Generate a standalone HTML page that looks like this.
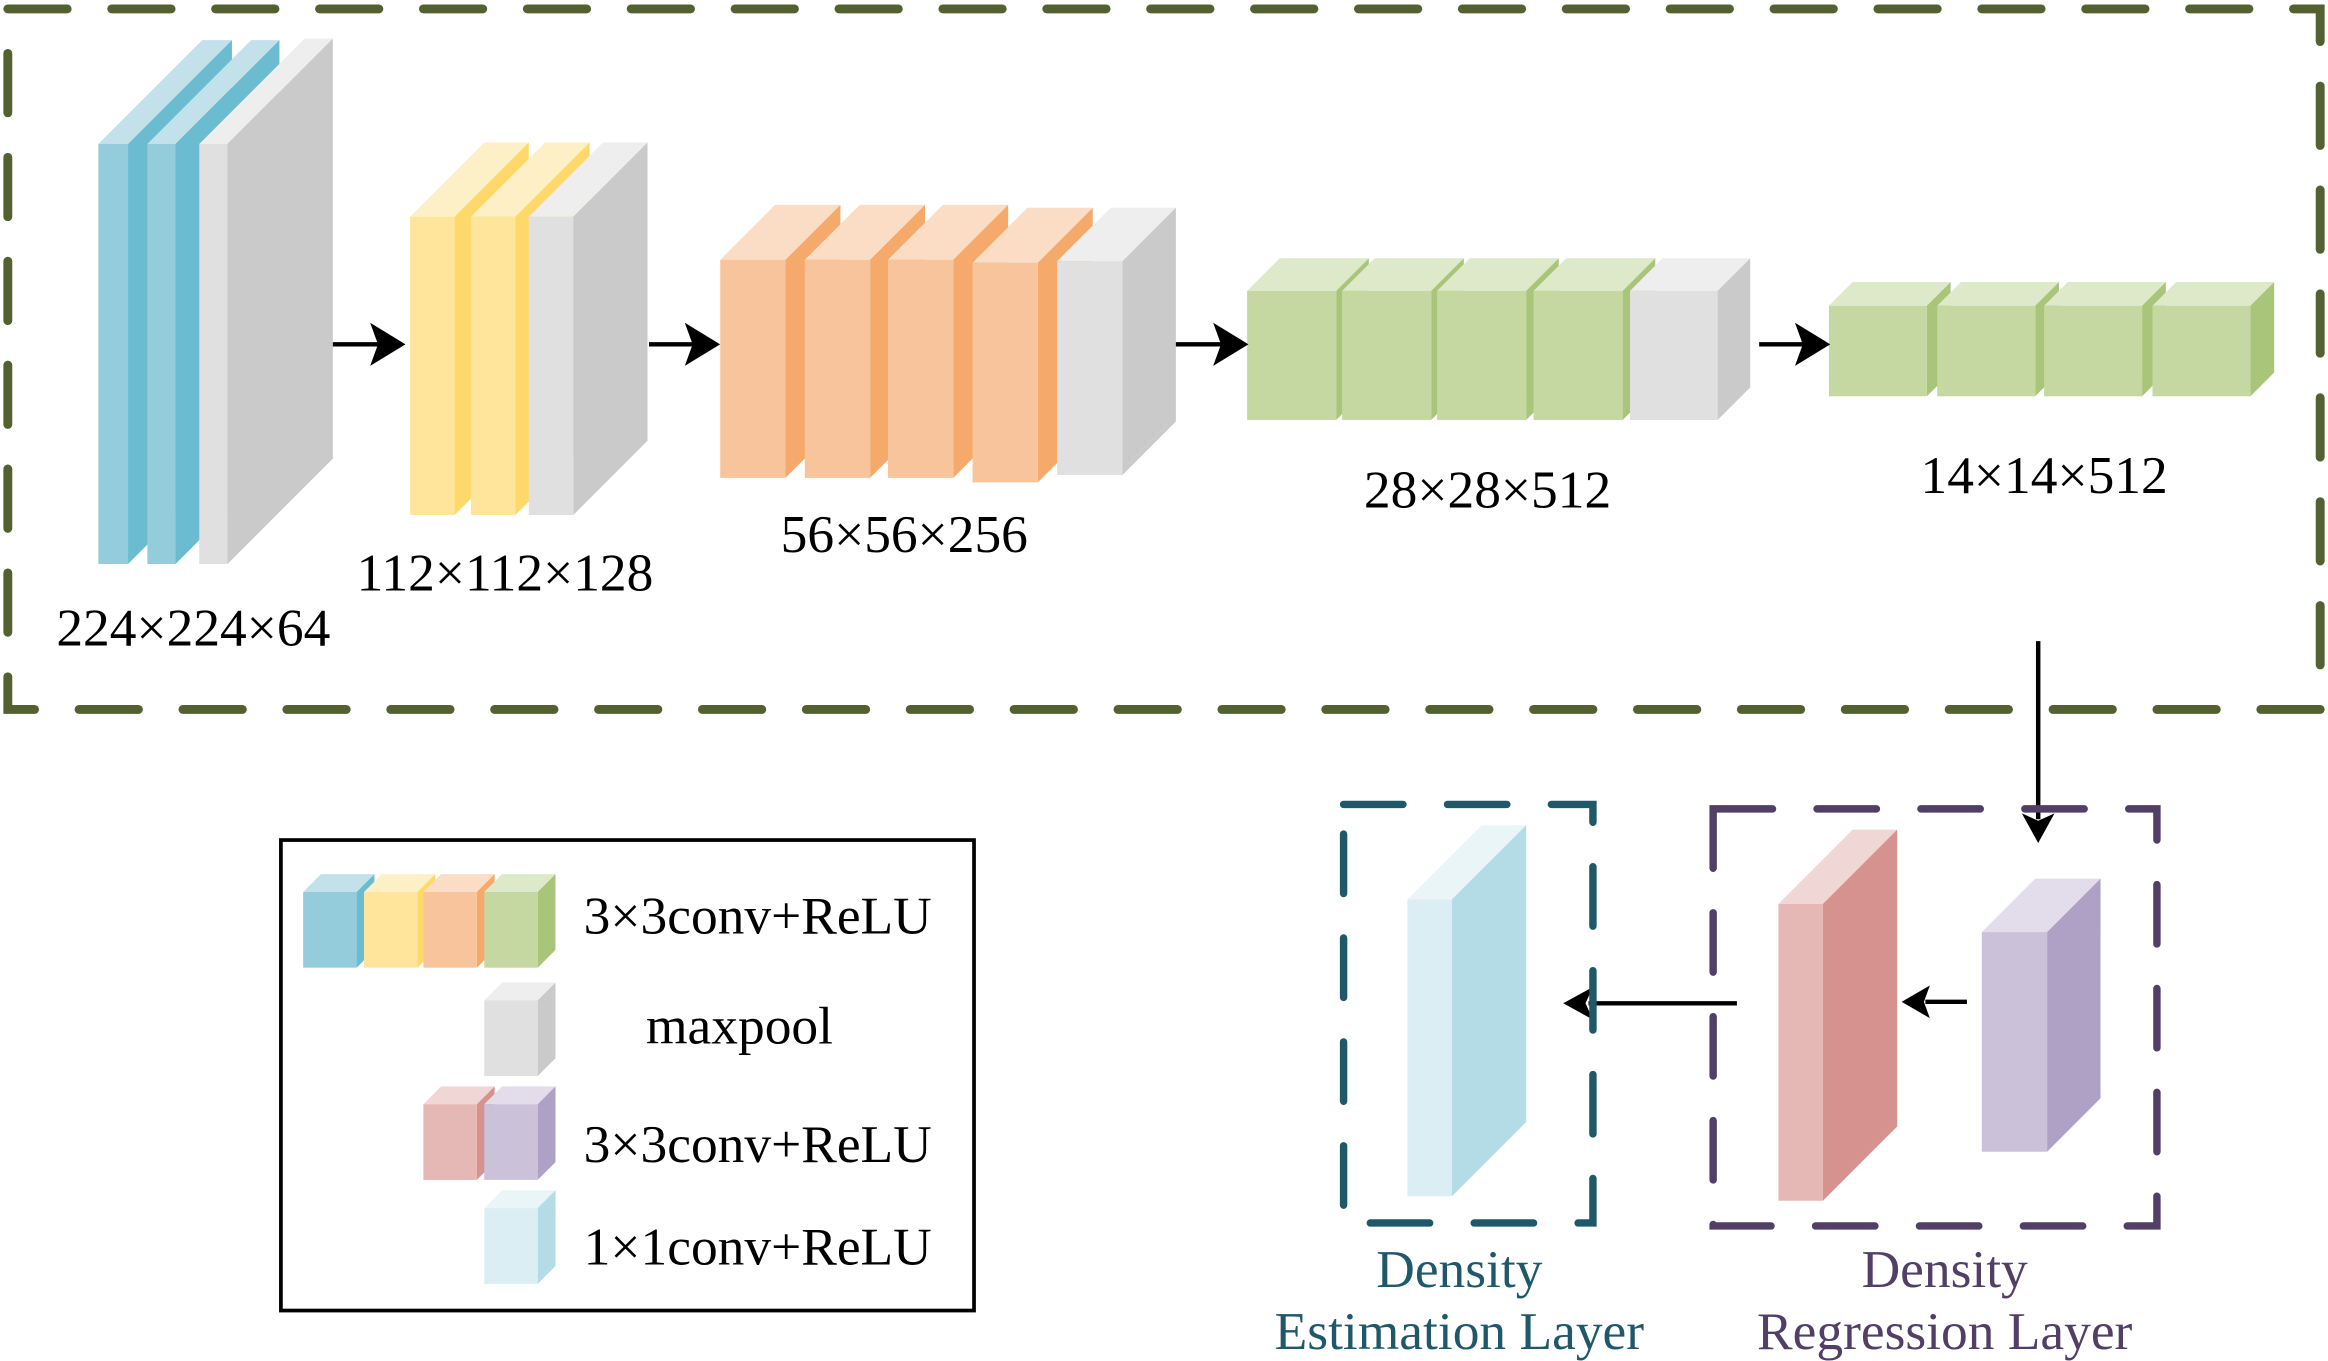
<!DOCTYPE html>
<html><head><meta charset="utf-8"><style>html,body{margin:0;padding:0;background:#fff}svg{display:block}</style></head>
<body>
<svg width="2328" height="1361" viewBox="0 0 1568 917" xmlns="http://www.w3.org/2000/svg" font-family="'Liberation Serif', serif">
<rect x="0" y="0" width="1568" height="917" fill="#fff"/>
<rect x="5" y="6" width="1558" height="472" fill="none" stroke="#536130" stroke-width="6" stroke-dasharray="40 30" stroke-linecap="round"/>
<polygon points="66,97 136,27 156,27 86,97" fill="#c2e1ea"/><polygon points="86,97 156,27 156,310 86,380" fill="#6bbcd0"/><rect x="66" y="97" width="20" height="283" fill="#95ccdb"/>
<polygon points="99,97 169,27 188,27 118,97" fill="#c2e1ea"/><polygon points="118,97 188,27 188,310 118,380" fill="#6bbcd0"/><rect x="99" y="97" width="19" height="283" fill="#95ccdb"/>
<polygon points="134,97 205,26 224,26 153,97" fill="#eeeeee"/><polygon points="153,97 224,26 224,309 153,380" fill="#cacaca"/><rect x="134" y="97" width="19" height="283" fill="#e0e0e0"/>
<polygon points="276,146 326,96 356,96 306,146" fill="#fdf0c7"/><polygon points="306,146 356,96 356,297 306,347" fill="#fed96a"/><rect x="276" y="146" width="30" height="201" fill="#fee59b"/>
<polygon points="317,146 367,96 397,96 347,146" fill="#fdf0c7"/><polygon points="347,146 397,96 397,297 347,347" fill="#fed96a"/><rect x="317" y="146" width="30" height="201" fill="#fee59b"/>
<polygon points="356,146 406,96 436,96 386,146" fill="#eeeeee"/><polygon points="386,146 436,96 436,297 386,347" fill="#cacaca"/><rect x="356" y="146" width="30" height="201" fill="#e0e0e0"/>
<polygon points="485,175 522,138 566,138 529,175" fill="#fbdcc4"/><polygon points="529,175 566,138 566,285 529,322" fill="#f5a96a"/><rect x="485" y="175" width="44" height="147" fill="#f8c49b"/>
<polygon points="542,175 579,138 623,138 586,175" fill="#fbdcc4"/><polygon points="586,175 623,138 623,285 586,322" fill="#f5a96a"/><rect x="542" y="175" width="44" height="147" fill="#f8c49b"/>
<polygon points="598,175 635,138 679,138 642,175" fill="#fbdcc4"/><polygon points="642,175 679,138 679,285 642,322" fill="#f5a96a"/><rect x="598" y="175" width="44" height="147" fill="#f8c49b"/>
<polygon points="655,177 692,140 736,140 699,177" fill="#fbdcc4"/><polygon points="699,177 736,140 736,288 699,325" fill="#f5a96a"/><rect x="655" y="177" width="44" height="148" fill="#f8c49b"/>
<polygon points="712,176 748,140 792,140 756,176" fill="#eeeeee"/><polygon points="756,176 792,140 792,284 756,320" fill="#cacaca"/><rect x="712" y="176" width="44" height="144" fill="#e0e0e0"/>
<polygon points="840,196 862,174 922,174 900,196" fill="#dde9c9"/><polygon points="900,196 922,174 922,261 900,283" fill="#a9c57a"/><rect x="840" y="196" width="60" height="87" fill="#c5d8a1"/>
<polygon points="904,196 926,174 986,174 964,196" fill="#dde9c9"/><polygon points="964,196 986,174 986,261 964,283" fill="#a9c57a"/><rect x="904" y="196" width="60" height="87" fill="#c5d8a1"/>
<polygon points="968,196 990,174 1050,174 1028,196" fill="#dde9c9"/><polygon points="1028,196 1050,174 1050,261 1028,283" fill="#a9c57a"/><rect x="968" y="196" width="60" height="87" fill="#c5d8a1"/>
<polygon points="1033,196 1055,174 1115,174 1093,196" fill="#dde9c9"/><polygon points="1093,196 1115,174 1115,261 1093,283" fill="#a9c57a"/><rect x="1033" y="196" width="60" height="87" fill="#c5d8a1"/>
<polygon points="1098,196 1120,174 1179,174 1157,196" fill="#eeeeee"/><polygon points="1157,196 1179,174 1179,261 1157,283" fill="#cacaca"/><rect x="1098" y="196" width="59" height="87" fill="#e0e0e0"/>
<polygon points="1232,206 1248,190 1314,190 1298,206" fill="#dde9c9"/><polygon points="1298,206 1314,190 1314,251 1298,267" fill="#a9c57a"/><rect x="1232" y="206" width="66" height="61" fill="#c5d8a1"/>
<polygon points="1305,206 1321,190 1387,190 1371,206" fill="#dde9c9"/><polygon points="1371,206 1387,190 1387,251 1371,267" fill="#a9c57a"/><rect x="1305" y="206" width="66" height="61" fill="#c5d8a1"/>
<polygon points="1377,206 1393,190 1459,190 1443,206" fill="#dde9c9"/><polygon points="1443,206 1459,190 1459,251 1443,267" fill="#a9c57a"/><rect x="1377" y="206" width="66" height="61" fill="#c5d8a1"/>
<polygon points="1450,206 1466,190 1532,190 1516,206" fill="#dde9c9"/><polygon points="1516,206 1532,190 1532,251 1516,267" fill="#a9c57a"/><rect x="1450" y="206" width="66" height="61" fill="#c5d8a1"/>
<polygon points="948,606 998,556 1028,556 978,606" fill="#eaf5f8"/><polygon points="978,606 1028,556 1028,756 978,806" fill="#b3dce6"/><rect x="948" y="606" width="30" height="200" fill="#daeef3"/>
<polygon points="1198,609 1248,559 1278,559 1228,609" fill="#f0d6d5"/><polygon points="1228,609 1278,559 1278,759 1228,809" fill="#d5928e"/><rect x="1198" y="609" width="30" height="200" fill="#e5b8b5"/>
<polygon points="1335,628 1371,592 1415,592 1379,628" fill="#e2dceb"/><polygon points="1379,628 1415,592 1415,740 1379,776" fill="#afa1c6"/><rect x="1335" y="628" width="44" height="148" fill="#cbc2da"/>
<polygon points="204,601 216,589 252,589 240,601" fill="#c2e1ea"/><polygon points="240,601 252,589 252,640 240,652" fill="#6bbcd0"/><rect x="204" y="601" width="36" height="51" fill="#95ccdb"/>
<polygon points="245,601 257,589 293,589 281,601" fill="#fdf0c7"/><polygon points="281,601 293,589 293,640 281,652" fill="#fed96a"/><rect x="245" y="601" width="36" height="51" fill="#fee59b"/>
<polygon points="285,601 297,589 333,589 321,601" fill="#fbdcc4"/><polygon points="321,601 333,589 333,640 321,652" fill="#f5a96a"/><rect x="285" y="601" width="36" height="51" fill="#f8c49b"/>
<polygon points="326,601 338,589 374,589 362,601" fill="#dde9c9"/><polygon points="362,601 374,589 374,640 362,652" fill="#a9c57a"/><rect x="326" y="601" width="36" height="51" fill="#c5d8a1"/>
<polygon points="326,674 338,662 374,662 362,674" fill="#eeeeee"/><polygon points="362,674 374,662 374,713 362,725" fill="#cacaca"/><rect x="326" y="674" width="36" height="51" fill="#e0e0e0"/>
<polygon points="285,744 297,732 333,732 321,744" fill="#f0d6d5"/><polygon points="321,744 333,732 333,783 321,795" fill="#d5928e"/><rect x="285" y="744" width="36" height="51" fill="#e5b8b5"/>
<polygon points="326,744 338,732 374,732 362,744" fill="#e2dceb"/><polygon points="362,744 374,732 374,783 362,795" fill="#afa1c6"/><rect x="326" y="744" width="36" height="51" fill="#cbc2da"/>
<polygon points="326,814 338,802 374,802 362,814" fill="#eaf5f8"/><polygon points="362,814 374,802 374,853 362,865" fill="#b3dce6"/><rect x="326" y="814" width="36" height="51" fill="#daeef3"/>
<g stroke="#000" stroke-width="3" fill="#000">
<line x1="224" y1="232" x2="255" y2="232"/><polygon points="270,232 252,221 256,232 252,243"/>
<line x1="437" y1="232" x2="467" y2="232"/><polygon points="482,232 464,221 468,232 464,243"/>
<line x1="792" y1="232" x2="823" y2="232"/><polygon points="838,232 820,221 824,232 820,243"/>
<line x1="1185" y1="232" x2="1215" y2="232"/><polygon points="1230,232 1212,221 1216,232 1212,243"/>
<line x1="1373" y1="432" x2="1373" y2="552"/><polygon points="1373,568 1362,548 1373,553 1384,548" stroke="none"/>
<line x1="1170" y1="676" x2="1070" y2="676"/><polygon points="1053,676 1073,665 1068,676 1073,687" stroke="none"/>
<line x1="1325" y1="675" x2="1297" y2="675"/><polygon points="1281,675 1300,664 1296,675 1300,686" stroke="none"/>
</g>
<g font-size="36" fill="#000" text-anchor="middle">
<text x="130" y="435">224×224×64</text>
<text x="340" y="398">112×112×128</text>
<text x="609" y="372">56×56×256</text>
<text x="1002" y="342">28×28×512</text>
<text x="1377" y="332">14×14×512</text>
</g>
<rect x="905" y="542" width="168" height="282" fill="none" stroke="#1f5868" stroke-width="5" stroke-dasharray="40 30" stroke-linecap="round"/>
<rect x="1154" y="545" width="299" height="281" fill="none" stroke="#523f66" stroke-width="5" stroke-dasharray="40 30" stroke-linecap="round"/>
<g font-size="36" text-anchor="middle">
<text x="983" y="867" fill="#1f5868">Density</text>
<text x="983" y="909" fill="#1f5868">Estimation Layer</text>
<text x="1310" y="867" fill="#523f66">Density</text>
<text x="1310" y="909" fill="#523f66">Regression Layer</text>
</g>
<rect x="189" y="566" width="467" height="317" fill="none" stroke="#000" stroke-width="2.5"/>
<g font-size="36" fill="#000">
<text x="393" y="629">3×3conv+ReLU</text>
<text x="435" y="703">maxpool</text>
<text x="393" y="783">3×3conv+ReLU</text>
<text x="393" y="852">1×1conv+ReLU</text>
</g>
</svg>
</body></html>
